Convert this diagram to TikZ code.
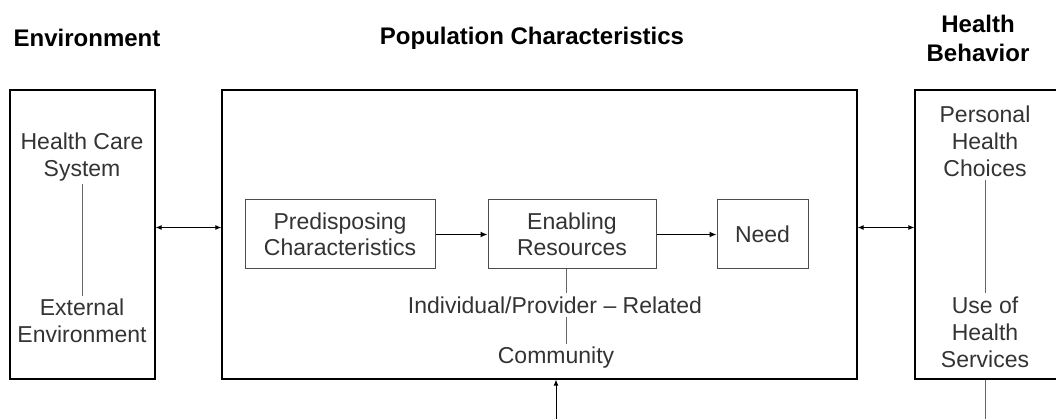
\documentclass[tikz,border=0pt]{standalone}
\usepackage{fontspec}
\setmainfont{Liberation Sans}
\usetikzlibrary{arrows.meta}
\tikzset{
  outer/.style={draw,line width=1.2pt,minimum height=289,inner sep=0},
  inner/.style={draw=black!70,line width=1pt,minimum height=69,inner sep=0,
    font=\fontsize{23}{26}\selectfont,text=black!80,align=center},
  txt/.style={font=\fontsize{23}{27}\selectfont,text=black!80,align=center,inner sep=3pt},
  head/.style={font=\fontsize{24}{29}\selectfont\bfseries,align=center},
  link/.style={draw=black!60,line width=0.8pt},
  flow/.style={line width=1.5pt,-{Latex[length=7pt,width=6pt]}},
  both/.style={line width=1pt,{Latex[length=6pt,width=5pt]}-{Latex[length=6pt,width=5pt]}}
}
\begin{document}
\begin{tikzpicture}[x=1pt,y=-1pt]
\useasboundingbox (0,0) rectangle (1056,419);
% headings
\node[head] (envT) at (87,38) {Environment};
\node[head] (popT) at (532,38) {Population Characteristics};
\node[head] (behT) at (978,38) {Health\\Behavior};
% outer boxes
\node[outer,minimum width=145] (env) at (82.5,234.5) {};
\node[outer,minimum width=635] (pop) at (539.5,234.5) {};
\node[outer,minimum width=150] (beh) at (990,234.5) {};
% environment
\node[txt] (hcs) at (82,157) {Health Care\\System};
\node[txt] (ext) at (82,321) {External\\Environment};
\draw[link] (hcs) -- (ext);
% population characteristics
\node[inner,minimum width=190] (pred) at (340,234.5) {Predisposing\\Characteristics};
\node[inner,minimum width=168] (enab) at (572,234.5) {Enabling\\Resources};
\node[inner,minimum width=91] (need) at (762.5,234.5) {Need};
\draw[flow] (pred) -- (enab);
\draw[flow] (enab) -- (need);
\node[txt] (indiv) at (555,305) {Individual/Provider -- Related};
\node[txt] (comm) at (556,358) {Community};
\draw[link] ([xshift=-6]enab.south) -- ([xshift=-6]enab.south |- indiv.north);
\draw[link] ([xshift=-6]enab.south |- indiv.south) -- ([xshift=-6]enab.south |- comm.north);
% health behavior
\node[txt] (pers) at (985,141) {Personal\\Health\\Choices};
\node[txt] (use) at (985,332) {Use of\\Health\\Services};
\draw[link] (pers) -- (use);
% links between boxes
\draw[both] ([yshift=7]env.east) -- ([yshift=7]env.east -| pop.west);
\draw[both] ([yshift=7]pop.east) -- ([yshift=7]pop.east -| beh.west);
\coordinate (src) at (556,419);
\draw[line width=1pt,-{Latex[length=6pt,width=5pt]}] (src) -- (src |- pop.south);
\coordinate (out) at (985,419);
\draw[link] (out |- beh.south) -- (out);
\end{tikzpicture}
\end{document}
